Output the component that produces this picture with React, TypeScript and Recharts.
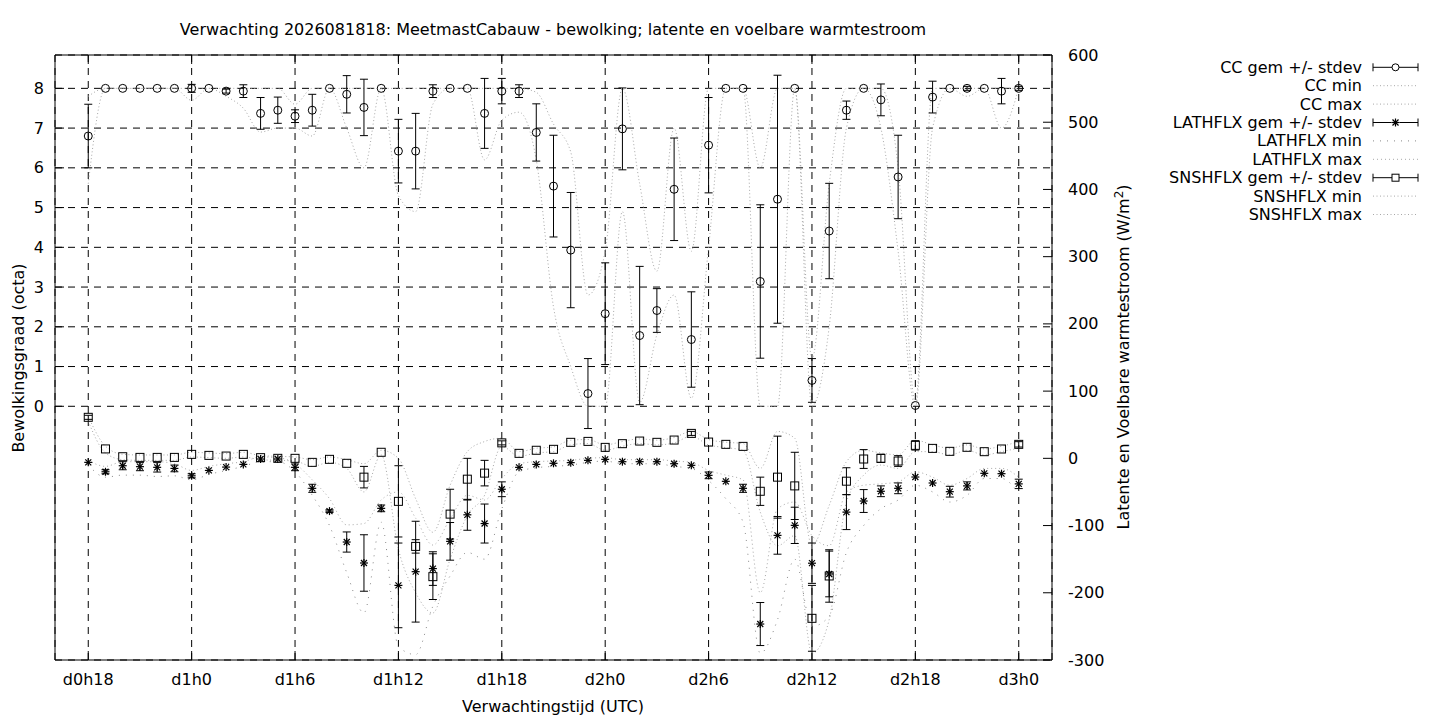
import React from "react";
import {
  ComposedChart,
  Line,
  Scatter,
  ErrorBar,
  XAxis,
  YAxis,
  CartesianGrid,
  Legend,
} from "recharts";

// forecast hour (hours after d0h0)
const hours = [
  18, 19, 20, 21, 22, 23,
  24, 25, 26, 27, 28, 29,
  30, 31, 32, 33, 34, 35,
  36, 37, 38, 39, 40, 41,
  42, 43, 44, 45, 46, 47,
  48, 49, 50, 51, 52, 53,
  54, 55, 56, 57, 58, 59,
  60, 61, 62, 63, 64, 65,
  66, 67, 68, 69, 70, 71,
  72,
];

// cloud cover (octa)
const ccMean = [
  6.8, 8, 8, 8, 8, 8,
  8, 8, 7.93, 7.93, 7.37, 7.45,
  7.3, 7.45, 8, 7.85, 7.52, 8,
  6.42, 6.42, 7.93, 8, 8, 7.37,
  7.93, 7.93, 6.89, 5.54, 3.93, 0.32,
  2.33, 6.98, 1.78, 2.41, 5.46, 1.68,
  6.57, 8, 8, 3.14, 5.21, 8,
  0.65, 4.41, 7.45, 8, 7.71, 5.77,
  0.02, 7.78, 8, 8, 8, 7.93,
  8,
];
const ccSd = [
  0.8, 0, 0, 0, 0, 0,
  0.1, 0, 0.05, 0.16, 0.4, 0.33,
  0.16, 0.4, 0, 0.47, 0.71, 0,
  0.8, 0.95, 0.16, 0, 0, 0.88,
  0.32, 0.16, 0.72, 1.28, 1.45, 0.88,
  1.28, 1.03, 1.74, 0.55, 1.29, 1.2,
  1.2, 0, 0, 1.93, 3.12, 0,
  0.55, 1.2, 0.23, 0, 0.4, 1.05,
  0, 0.4, 0, 0.05, 0, 0.32,
  0.05,
];
const ccMin = [
  5.6, 8, 8, 8, 8, 8,
  7.7, 8, 7.8, 7.5, 6.9, 7.0,
  7.0, 6.8, 8, 7.0, 6.0, 8,
  5.3, 4.9, 7.6, 8, 8, 6.2,
  7.2, 7.4, 6.2, 2.5, 1.0, 0,
  0, 4.9, 0.1, 1.8, 2.8, 0.2,
  4.0, 8, 8, 0, 0, 8,
  0, 2.0, 7.0, 8, 7.0, 3.9,
  0, 7.0, 8, 7.8, 8, 7.0,
  8,
];
const ccMax = [
  7.8, 8, 8, 8, 8, 8,
  8, 8, 8, 8, 8, 8,
  7.6, 8, 8, 8, 8, 8,
  8, 8, 8, 8, 8, 8,
  8, 8, 7.9, 7.1, 6.4, 2.8,
  3.9, 8, 5.6, 3.4, 7.0, 3.9,
  8, 8, 8, 6.0, 8, 8,
  1.2, 5.6, 8, 8, 8, 6.0,
  0.1, 8, 8, 8, 8, 8,
  8,
];

// latent heat flux (W/m2)
const latMean = [
  -6, -20, -11, -12.4, -13.4, -15,
  -26, -18, -13, -9, -1, -1,
  -13.4, -44.6, -78.5, -124.5, -155.7, -74.4,
  -189, -168.6, -164, -123.5, -84, -97,
  -46, -13.4, -9, -7.4, -6.4, -3,
  -1.5, -5, -5, -5, -8, -10.4,
  -25.3, -34.2, -44.6, -246.5, -114.6, -99.7,
  -156, -172, -80, -63.5, -49, -44.6,
  -27.8, -36.7, -49.6, -41, -22.3, -22.8,
  -38,
];
const latSd = [
  0, 3, 6, 6, 7, 5,
  3, 0, 0, 0, 0, 0,
  5, 6, 2, 15, 42, 5,
  63, 75, 25, 28, 23, 29,
  11, 0, 0, 0, 0, 0,
  0, 0, 0, 0, 0, 0,
  5, 0, 6, 32, 28, 27,
  30, 34, 26, 17, 8, 8,
  0, 0, 8, 6, 0, 0,
  7,
];
const latMin = [
  -10, -28, -25, -25, -27, -26,
  -32, -24, -18, -12, -5, -5,
  -20, -55, -100, -170, -230, -95,
  -280, -292, -220, -175, -140, -150,
  -75, -20, -14, -12, -10, -6,
  -4, -8, -8, -8, -12, -15,
  -33, -60, -95, -290, -240, -150,
  -250, -235, -140, -100, -75, -62,
  -40, -50, -65, -55, -30, -30,
  -52,
];
const latMax = [
  -3, -12, -5, -5, -5, -8,
  -18, -12, -8, -5, 2, 1,
  -8, -32, -60, -99, -97, -62,
  -50, -89, -129, -90, -55, -62,
  -30, -8, -5, -4, -3, 0,
  1, -2, -2, -2, -4, -6,
  -18, -25, -32, -200, -75, -65,
  -115, -130, -50, -40, -38, -35,
  -20, -28, -40, -30, -15, -15,
  -28,
];

// sensible heat flux (W/m2)
const snsMean = [
  61, 14, 2.4, 1.4, 1.4, 1.4,
  5.9, 4.4, 3.4, 5.9, 1, 0,
  0, -6, -1.5, -7.4, -28, 9,
  -64, -131, -176, -83, -31, -22,
  23, 7.4, 12, 13.4, 23.8, 25.2,
  16.3, 21.8, 25.7, 23.8, 27.2, 37.1,
  24.2, 20.8, 17.8, -49, -28, -41,
  -238, -175, -34, -1, 0, -4,
  19.3, 14.8, 10.4, 16.4, 9.9, 13.9,
  20.8,
];
const snsSd = [
  3, 0, 0, 0, 0, 0,
  0, 0, 0, 0, 0, 0,
  0, 0, 0, 0, 16, 0,
  53, 10, 34, 37, 31, 19,
  3, 0, 0, 0, 0, 0,
  0, 0, 0, 0, 0, 3,
  0, 0, 0, 21, 61, 50,
  49, 39, 20, 14, 6, 8,
  7, 0, 0, 0, 0, 0,
  4,
];
const snsMin = [
  55, 8, -2, -3, -3, -3,
  2, 1, 0, 2, -2, -3,
  -4, -12, -6, -15, -50, 5,
  -135, -200, -230, -150, -85, -55,
  18, 3, 8, 10, 20, 22,
  12, 18, 22, 20, 23, 33,
  20, 16, 12, -80, -130, -115,
  -290, -240, -65, -25, -10, -15,
  10, 10, 5, 12, 5, 10,
  15,
];
const snsMax = [
  62, 18, 6, 5, 5, 5,
  9, 8, 7, 9, 4, 3,
  2, -2, 2, -2, -8, 12,
  0, -60, -110, -40, 10, 25,
  30, 10, 15, 17, 27, 28,
  20, 25, 29, 27, 31, 40,
  28, 24, 22, -15, 40, 30,
  -130, -70, -5, 12, 8, 5,
  27, 20, 15, 20, 14, 18,
  25,
];

const xTicks = [18, 24, 30, 36, 42, 48, 54, 60, 66, 72];
const xTickLabels = ["d0h18", "d1h0", "d1h6", "d1h12", "d1h18", "d2h0", "d2h6", "d2h12", "d2h18", "d3h0"];
const ccTicks = [0, 1, 2, 3, 4, 5, 6, 7, 8];
const fluxTicks = [-300, -200, -100, 0, 100, 200, 300, 400, 500, 600];

const data = hours.map((h, i) => ({
  h,
  cc: ccMean[i],
  ccSd: ccSd[i],
  ccMin: ccMin[i],
  ccMax: ccMax[i],
  lat: latMean[i],
  latSd: latSd[i],
  latMin: latMin[i],
  latMax: latMax[i],
  sns: snsMean[i],
  snsSd: snsSd[i],
  snsMin: snsMin[i],
  snsMax: snsMax[i],
}));

const FONT = "'DejaVu Sans', sans-serif";
const FS = 16;
const GREY = "#a8a8a8";

// plot box: left 55, right 1052, top 55, bottom 660
const W = 1440;
const H = 720;

function CircleMark({ cx, cy }: any) {
  if (cx == null || cy == null) return null;
  return <circle cx={cx} cy={cy} r={4} fill="none" stroke="#000" strokeWidth={1} />;
}

function SquareMark({ cx, cy }: any) {
  if (cx == null || cy == null) return null;
  return <rect x={cx - 4} y={cy - 4} width={8} height={8} fill="none" stroke="#000" strokeWidth={1} />;
}

function StarMark({ cx, cy }: any) {
  if (cx == null || cy == null) return null;
  const r = 4;
  const d = 3;
  return (
    <g stroke="#000" strokeWidth={1.2}>
      <line x1={cx - r} y1={cy} x2={cx + r} y2={cy} />
      <line x1={cx} y1={cy - r} x2={cx} y2={cy + r} />
      <line x1={cx - d} y1={cy - d} x2={cx + d} y2={cy + d} />
      <line x1={cx - d} y1={cy + d} x2={cx + d} y2={cy - d} />
    </g>
  );
}

const TM = 11; // tick margin

function LeftTick({ x, y, payload }: any) {
  return (
    <g>
      <line x1={x + TM} x2={x + TM + 9} y1={y} y2={y} stroke="#000" />
      <text x={x} y={y} textAnchor="end" dominantBaseline="central" fontFamily={FONT} fontSize={FS} fill="#000">
        {payload.value}
      </text>
    </g>
  );
}

function RightTick({ x, y, payload }: any) {
  return (
    <g>
      <line x1={x - TM} x2={x - TM - 9} y1={y} y2={y} stroke="#000" />
      <text x={x + 5} y={y} textAnchor="start" dominantBaseline="central" fontFamily={FONT} fontSize={FS} fill="#000">
        {payload.value}
      </text>
    </g>
  );
}

function BottomTick({ x, y, payload }: any) {
  const idx = xTicks.indexOf(payload.value);
  return (
    <g>
      <line x1={x} x2={x} y1={y - TM} y2={y - TM - 9} stroke="#000" />
      <text x={x} y={y + 8} textAnchor="middle" dominantBaseline="central" fontFamily={FONT} fontSize={FS} fill="#000">
        {idx >= 0 ? xTickLabels[idx] : ""}
      </text>
    </g>
  );
}

function TopTick({ x, y }: any) {
  return <line x1={x} x2={x} y1={y + TM} y2={y + TM + 9} stroke="#000" />;
}

const legendItems = [
  { label: "CC gem +/- stdev", kind: "err", mark: "circle" },
  { label: "CC min", kind: "line", dash: "1 2.5", color: GREY },
  { label: "CC max", kind: "line", dash: "1 2.5", color: GREY },
  { label: "LATHFLX gem +/- stdev", kind: "err", mark: "star" },
  { label: "LATHFLX min", kind: "line", dash: "1 6", color: "#888" },
  { label: "LATHFLX max", kind: "line", dash: "1 3", color: GREY },
  { label: "SNSHFLX gem +/- stdev", kind: "err", mark: "square" },
  { label: "SNSHFLX min", kind: "line", dash: "1 2.5", color: GREY },
  { label: "SNSHFLX max", kind: "line", dash: "1 2.5", color: GREY },
];

function KeyBox() {
  const textEnd = 212;
  const s0 = 223;
  const s1 = 268;
  const mid = (s0 + s1) / 2;
  return (
    <svg width={290} height={180} style={{ display: "block" }}>
      {legendItems.map((it, i) => {
        const y = 17.3 + i * 18.4;
        return (
          <g key={it.label}>
            <text x={textEnd} y={y} textAnchor="end" dominantBaseline="central" fontFamily={FONT} fontSize={FS} fill="#000">
              {it.label}
            </text>
            {it.kind === "err" ? (
              <g stroke="#000" strokeWidth={1}>
                <line x1={s0} x2={s1} y1={y} y2={y} />
                <line x1={s0} x2={s0} y1={y - 4} y2={y + 4} />
                <line x1={s1} x2={s1} y1={y - 4} y2={y + 4} />
                {it.mark === "circle" && <circle cx={mid} cy={y} r={3.5} fill="#fff" />}
                {it.mark === "square" && <rect x={mid - 3.5} y={y - 3.5} width={7} height={7} fill="#fff" />}
                {it.mark === "star" && (
                  <g>
                    <rect x={mid - 4} y={y - 4} width={8} height={8} fill="#fff" stroke="none" />
                    <StarMark cx={mid} cy={y} />
                  </g>
                )}
              </g>
            ) : (
              <line x1={s0} x2={s1} y1={y} y2={y} stroke={it.color} strokeDasharray={it.dash} />
            )}
          </g>
        );
      })}
    </svg>
  );
}

const lineSeries = [
  { key: "ccMin", axis: "cc", dash: "1 2.5", color: GREY },
  { key: "ccMax", axis: "cc", dash: "1 2.5", color: GREY },
  { key: "latMin", axis: "w", dash: "1 6", color: "#888" },
  { key: "latMax", axis: "w", dash: "1 3", color: GREY },
  { key: "snsMin", axis: "w", dash: "1 2.5", color: GREY },
  { key: "snsMax", axis: "w", dash: "1 2.5", color: GREY },
];

export default function App() {
  return (
    <div style={{ position: "absolute", left: 0, top: 0, width: W, height: H, background: "#fff" }}>
      <ComposedChart
        width={W}
        height={H}
        data={data}
        margin={{ top: 54, right: 328, bottom: 30, left: 10 }}
      >
        <CartesianGrid
          yAxisId="cc"
          stroke="#000"
          strokeDasharray="7 6"
          strokeWidth={1}
        />
        <XAxis
          dataKey="h"
          type="number"
          domain={[16.07, 73.93]}
          allowDataOverflow
          ticks={xTicks}
          interval={0}
          height={30}
          tickSize={0}
          tickMargin={TM}
          tickLine={false}
          axisLine={{ stroke: "#000" }}
          tick={<BottomTick />}
        />
        <XAxis
          xAxisId="top"
          orientation="top"
          dataKey="h"
          type="number"
          domain={[16.07, 73.93]}
          allowDataOverflow
          ticks={xTicks}
          interval={0}
          height={1}
          tickSize={0}
          tickMargin={TM}
          tickLine={false}
          axisLine={{ stroke: "#000" }}
          tick={<TopTick />}
        />
        <YAxis
          yAxisId="cc"
          orientation="left"
          type="number"
          domain={[-6.384, 8.839]}
          allowDataOverflow
          ticks={ccTicks}
          interval={0}
          width={45}
          tickSize={0}
          tickMargin={TM}
          tickLine={false}
          axisLine={{ stroke: "#000" }}
          tick={<LeftTick />}
        />
        <YAxis
          yAxisId="w"
          orientation="right"
          type="number"
          domain={[-300, 600]}
          allowDataOverflow
          ticks={fluxTicks}
          interval={0}
          width={60}
          tickSize={0}
          tickMargin={TM}
          tickLine={false}
          axisLine={{ stroke: "#000" }}
          tick={<RightTick />}
        />

        {lineSeries.map((s) => (
          <Line
            key={s.key}
            yAxisId={s.axis}
            dataKey={s.key}
            type="monotone"
            stroke={s.color}
            strokeWidth={1}
            strokeDasharray={s.dash}
            dot={false}
            activeDot={false}
            isAnimationActive={false}
          />
        ))}

        <Scatter yAxisId="cc" dataKey="cc" shape={CircleMark} isAnimationActive={false}>
          <ErrorBar dataKey="ccSd" direction="y" width={4} stroke="#000" strokeWidth={1} isAnimationActive={false} />
        </Scatter>
        <Scatter yAxisId="w" dataKey="lat" shape={StarMark} isAnimationActive={false}>
          <ErrorBar dataKey="latSd" direction="y" width={4} stroke="#000" strokeWidth={1} isAnimationActive={false} />
        </Scatter>
        <Scatter yAxisId="w" dataKey="sns" shape={SquareMark} isAnimationActive={false}>
          <ErrorBar dataKey="snsSd" direction="y" width={4} stroke="#000" strokeWidth={1} isAnimationActive={false} />
        </Scatter>

        <Legend
          layout="vertical"
          align="center"
          verticalAlign="middle"
          content={() => <KeyBox />}
          wrapperStyle={{ position: "absolute", left: 1150, top: 50, width: 290, height: 180 }}
        />
      </ComposedChart>

      <svg
        width={W}
        height={H}
        style={{ position: "absolute", left: 0, top: 0, pointerEvents: "none" }}
      >
        <text x={553} y={29} textAnchor="middle" dominantBaseline="central" fontFamily={FONT} fontSize={FS} fill="#000">
          Verwachting 2026081818: MeetmastCabauw - bewolking; latente en voelbare warmtestroom
        </text>
        <text x={553} y={706} textAnchor="middle" dominantBaseline="central" fontFamily={FONT} fontSize={FS} fill="#000">
          Verwachtingstijd (UTC)
        </text>
        <text
          transform="translate(18,358) rotate(-90)"
          textAnchor="middle"
          dominantBaseline="central"
          fontFamily={FONT}
          fontSize={FS}
          fill="#000"
        >
          Bewolkingsgraad (octa)
        </text>
        <text
          transform="translate(1124,357) rotate(-90)"
          textAnchor="middle"
          fontFamily={FONT}
          fontSize={FS}
          fill="#000"
          dy={5}
        >
          Latente en Voelbare warmtestroom (W/m
          <tspan fontSize={FS * 0.75} dy={-6}>2</tspan>
          <tspan dy={6}>)</tspan>
        </text>
      </svg>
    </div>
  );
}
